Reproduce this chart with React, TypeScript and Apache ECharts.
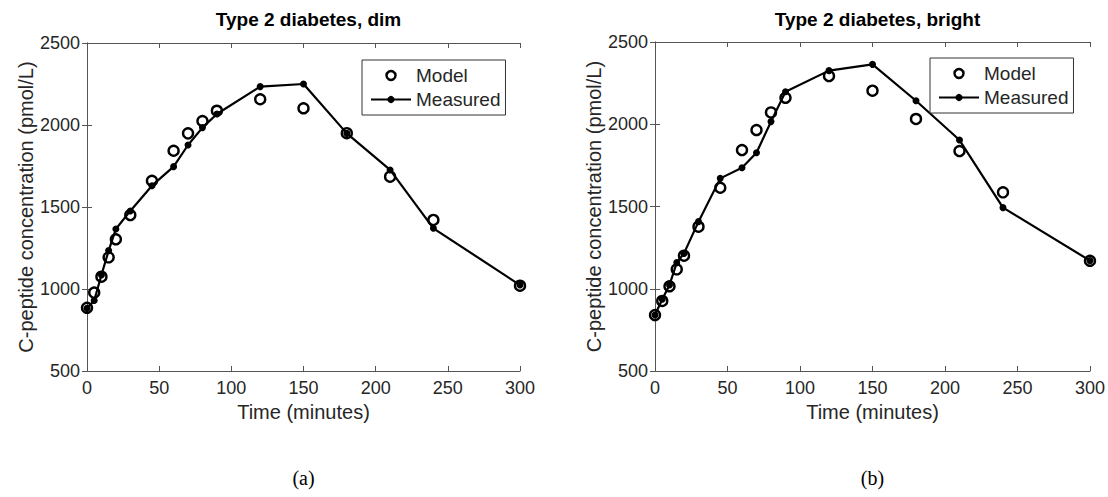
import React, { useEffect, useRef } from "react";
import * as echarts from "echarts";

const timeModel = [0, 5, 10, 15, 20, 30, 45, 60, 70, 80, 90, 120, 150, 180, 210, 240, 300];
const timeMeasured = [0, 5, 10, 15, 20, 30, 45, 60, 70, 80, 90, 120, 150, 180, 210, 240, 300];

const dimModel = [885, 978, 1075, 1193, 1303, 1451, 1660, 1843, 1949, 2024, 2087, 2157, 2102, 1950, 1685, 1421, 1020];
const dimMeasured = [882, 930, 1085, 1234, 1366, 1476, 1630, 1746, 1878, 1984, 2067, 2234, 2250, 1949, 1726, 1370, 1024];

const brightModel = [840, 926, 1015, 1118, 1201, 1377, 1614, 1843, 1965, 2072, 2161, 2293, 2204, 2032, 1837, 1586, 1170];
const brightMeasured = [840, 936, 1023, 1159, 1215, 1408, 1671, 1736, 1827, 2016, 2198, 2326, 2364, 2143, 1904, 1493, 1171];

const titles = ["Type 2 diabetes, dim", "Type 2 diabetes, bright"];
const subLabels = ["(a)", "(b)"];
const xName = "Time (minutes)";
const yName = "C-peptide concentration (pmol/L)";

const FONT = "'Liberation Sans', Arial, sans-serif";
const AXIS_COLOR = "#555555";
const TEXT_COLOR = "#262626";

const grids = [
  { left: 87, top: 43, width: 433, height: 328 },
  { left: 655, top: 42, width: 435, height: 329 },
];

function pairs(xs: number[], ys: number[]) {
  return xs.map((x, i) => [x, ys[i]]);
}

export default function App() {
  const ref = useRef<HTMLDivElement>(null);
  useEffect(() => {
    if (!ref.current) return;
    const chart = echarts.init(ref.current, null, { renderer: "svg" });

    const xAxes: any[] = [];
    const yAxes: any[] = [];
    grids.forEach((g, i) => {
      const base = {
        type: "value",
        gridIndex: i,
        min: 0,
        max: 300,
        interval: 50,
        splitLine: { show: false },
        axisLine: { show: true, lineStyle: { color: AXIS_COLOR, width: 1 } },
        axisTick: { show: true, inside: true, length: 5, lineStyle: { color: AXIS_COLOR } },
      };
      xAxes.push({
        ...base,
        position: "bottom",
        name: xName,
        nameLocation: "middle",
        nameGap: 30,
        nameTextStyle: { fontFamily: FONT, fontSize: 20, color: TEXT_COLOR },
        axisLabel: {
          show: true,
          margin: 8,
          fontFamily: FONT,
          fontSize: 18,
          color: TEXT_COLOR,
          formatter: (v: number) => String(v),
        },
      });
      xAxes.push({ ...base, position: "top", axisLabel: { show: false } });
      const ybase = {
        type: "value",
        gridIndex: i,
        min: 500,
        max: 2500,
        interval: 500,
        splitLine: { show: false },
        axisLine: { show: true, lineStyle: { color: AXIS_COLOR, width: 1 } },
        axisTick: { show: true, inside: true, length: 5, lineStyle: { color: AXIS_COLOR } },
      };
      yAxes.push({
        ...ybase,
        position: "left",
        name: yName,
        nameLocation: "middle",
        nameGap: 50,
        nameTextStyle: { fontFamily: FONT, fontSize: 20, color: TEXT_COLOR },
        axisLabel: {
          show: true,
          margin: 7,
          fontFamily: FONT,
          fontSize: 18,
          color: TEXT_COLOR,
          formatter: (v: number) => String(v),
        },
      });
      yAxes.push({ ...ybase, position: "right", axisLabel: { show: false } });
    });

    const modelSets = [dimModel, brightModel];
    const measSets = [dimMeasured, brightMeasured];
    const series: any[] = [];
    grids.forEach((g, i) => {
      series.push({
        name: "Model",
        type: "scatter",
        xAxisIndex: i * 2,
        yAxisIndex: i * 2,
        symbol: "circle",
        symbolSize: 10,
        itemStyle: { color: "rgba(255,255,255,0)", borderColor: "#000", borderWidth: 2.4, opacity: 1 },
        data: pairs(timeModel, modelSets[i]),
        z: 2,
      });
      series.push({
        name: "Measured",
        type: "line",
        xAxisIndex: i * 2,
        yAxisIndex: i * 2,
        symbol: "circle",
        symbolSize: 7,
        showSymbol: true,
        lineStyle: { color: "#000", width: 2.2 },
        itemStyle: { color: "#000", borderColor: "#000", borderWidth: 0, opacity: 1 },
        data: pairs(timeMeasured, measSets[i]),
        z: 3,
      });
    });

    const legends = [
      { left: 362, top: 60 },
      { left: 930, top: 58 },
    ].map((p) => ({
      ...p,
      orient: "vertical",
      data: [
        { name: "Model", icon: "circle", itemStyle: { color: "rgba(255,255,255,0)", borderColor: "#000", borderWidth: 2.4, opacity: 1 } },
        { name: "Measured" },
      ],
      backgroundColor: "#fff",
      borderColor: "#333",
      borderWidth: 1,
      padding: [6, 5, 6, 8],
      itemGap: 5,
      itemWidth: 40,
      itemHeight: 9,
      selectedMode: false,
      textStyle: { fontFamily: FONT, fontSize: 19, color: TEXT_COLOR },
    }));

    chart.setOption({
      animation: false,
      backgroundColor: "#fff",
      title: titles.map((t, i) => ({
        text: t,
        left: grids[i].left + grids[i].width / 2,
        top: 5,
        textAlign: "center",
        textStyle: { fontFamily: FONT, fontSize: 19, fontWeight: "bold", color: "#000" },
      })),
      grid: grids,
      xAxis: xAxes,
      yAxis: yAxes,
      legend: legends,
      series,
      graphic: subLabels.map((t, i) => ({
        type: "text",
        x: grids[i].left + grids[i].width / 2,
        y: 478,
        style: {
          text: t,
          fontFamily: "'Liberation Serif', 'DejaVu Serif', serif",
          fontSize: 20,
          fill: "#000",
          textAlign: "center",
          textVerticalAlign: "middle",
        },
      })),
    });
    return () => chart.dispose();
  }, []);
  return (
    <div
      ref={ref}
      style={{ position: "fixed", left: 0, top: 0, width: 1108, height: 497, background: "#fff" }}
    />
  );
}
